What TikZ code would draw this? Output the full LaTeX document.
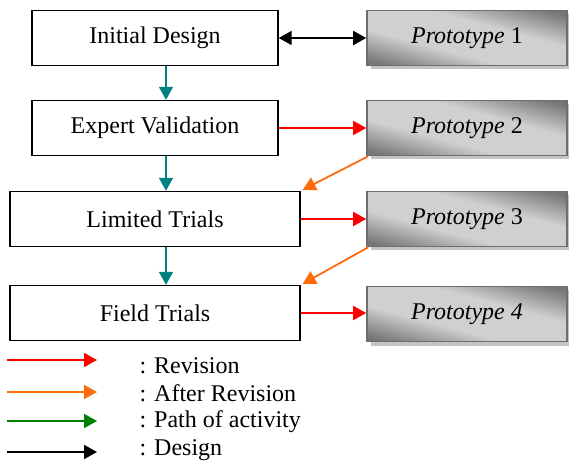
\documentclass[tikz,border=0pt]{standalone}
\usepackage{fontspec}
\setmainfont{Liberation Serif}
\usetikzlibrary{arrows.meta,shadows}

\definecolor{tealarrow}{HTML}{008080}
\definecolor{revred}{HTML}{FF0000}
\definecolor{afterorange}{HTML}{FF6A0A}
\definecolor{pathgreen}{HTML}{008000}
\definecolor{protoedge}{HTML}{6E6E6E}
\definecolor{protodark}{HTML}{767676}
\definecolor{protolight}{HTML}{D0D0D0}
\definecolor{shadowgray}{HTML}{C4C4C4}

% broad light band with darker corners for the prototype boxes
\pgfdeclareverticalshading{protoshade}{100bp}{%
  color(0bp)=(protodark); color(22bp)=(protodark);
  color(40bp)=(protolight); color(60bp)=(protolight);
  color(78bp)=(protodark); color(100bp)=(protodark)}

\tikzset{
  x=1pt, y=1pt,
  labeltext/.style={font=\fontsize{24}{27}\selectfont},
  stage/.style={draw=black, line width=1.4pt, fill=white, labeltext,
                inner sep=0pt, minimum height=55pt},
  proto/.style={draw=protoedge, line width=1.6pt, labeltext,
                inner sep=0pt, minimum width=200pt, minimum height=55pt,
                shading=protoshade, shading angle=-15,
                drop shadow={shadow xshift=4pt, shadow yshift=-4pt,
                             fill=shadowgray, opacity=1}},
  tip/.style={-{Triangle[width=14pt,length=13pt]}},
  flow/.style={tip, line width=1.8pt},
}

\begin{document}
\begin{tikzpicture}
\useasboundingbox (0,0) rectangle (569,463);

% development stages (left column)
\node[stage, minimum width=246pt] (init)   at (155,425) {Initial Design};
\node[stage, minimum width=246pt] (expert) at (155,335) {Expert Validation};
\node[stage, minimum width=290pt] (limit)  at (155,244) {Limited Trials};
\node[stage, minimum width=290pt] (field)  at (155,150) {Field Trials};

% prototypes (right column)
\node[proto] (p1) at (467,425) {\textit{Prototype} 1};
\node[proto] (p2) at (467,335) {\textit{Prototype} 2};
\node[proto] (p3) at (467,244) {\textit{Prototype} 3};
\node[proto] (p4) at (467,149) {\textit{Prototype 4}};

% path of activity
\draw[flow, draw=tealarrow, fill=tealarrow] (init.south -| 166,0)   -- (expert.north -| 166,0);
\draw[flow, draw=tealarrow, fill=tealarrow] (expert.south -| 166,0) -- (limit.north -| 166,0);
\draw[flow, draw=tealarrow, fill=tealarrow] (limit.south -| 166,0)  -- (field.north -| 166,0);

% design
\draw[line width=1.8pt, {Triangle[width=14pt,length=13pt]}-{Triangle[width=14pt,length=13pt]}]
  (init.east) -- (p1.west);

% revisions
\draw[flow, draw=revred, fill=revred] (expert.east) -- (expert.east -| p2.west);
\draw[flow, draw=revred, fill=revred] (limit.east)  -- (limit.east -| p3.west);
\draw[flow, draw=revred, fill=revred] (field.east)  -- (field.east -| p4.west);

% after revision
\draw[flow, draw=afterorange, fill=afterorange] ([xshift=2pt]p2.south west) -- ([xshift=2pt,yshift=1pt]limit.north east);
\draw[flow, draw=afterorange, fill=afterorange] ([xshift=2pt]p3.south west) -- ([xshift=2pt,yshift=1pt]field.north east);

% legend
\coordinate (l1a) at (7,103);  \coordinate (l1b) at (97,103);
\coordinate (l2a) at (7,71);   \coordinate (l2b) at (97,71);
\coordinate (l3a) at (7,42);   \coordinate (l3b) at (97,42);
\coordinate (l4a) at (7,11);   \coordinate (l4b) at (97,11);
\draw[flow, draw=revred, fill=revred]           (l1a) -- (l1b);
\draw[flow, draw=afterorange, fill=afterorange] (l2a) -- (l2b);
\draw[flow, draw=pathgreen, fill=pathgreen]     (l3a) -- (l3b);
\draw[flow, draw=black, fill=black]             (l4a) -- (l4b);
\node[labeltext, anchor=west] (t1) at (136,97) {: Revision};
\node[labeltext, anchor=west] (t2) at (136,70) {: After Revision};
\node[labeltext, anchor=west] (t3) at (136,41) {: Path of activity};
\node[labeltext, anchor=west] (t4) at (136,13) {: Design};
\end{tikzpicture}
\end{document}
